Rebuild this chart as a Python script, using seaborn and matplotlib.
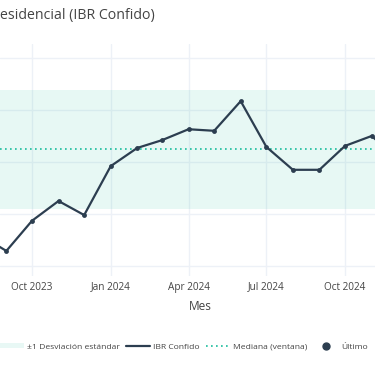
import pandas as pd
import matplotlib
matplotlib.use("Agg")
import matplotlib.pyplot as plt
from matplotlib.lines import Line2D
from matplotlib.patches import Patch
import seaborn as sns

# Data (y scale is not visible, so units are estimated)
months = ["2023-08-01", "2023-09-01", "2023-10-01", "2023-11-01", "2023-12-01",
          "2024-01-01", "2024-02-01", "2024-03-01", "2024-04-01", "2024-05-01",
          "2024-06-01", "2024-07-01", "2024-08-01", "2024-09-01", "2024-10-01",
          "2024-11-01", "2024-12-01"]
ibr_values = [16.0, 12.9, 18.7, 22.5, 19.8,
              29.2, 32.7, 34.2, 36.3, 36.0,
              41.7, 32.9, 28.5, 28.5, 33.1,
              35.0, 30.8]
median_value = 32.5
std_lower = 21.0
std_upper = 43.8
tick_months = ["2023-10-01", "2024-01-01", "2024-04-01", "2024-07-01", "2024-10-01"]
tick_labels = ["Oct 2023", "Jan 2024", "Apr 2024", "Jul 2024", "Oct 2024"]

df = pd.DataFrame({"Mes": pd.to_datetime(months), "IBR": ibr_values})

LINE = "#2c3e50"
TEAL = "#1abc9c"
BAND = "#e8f8f5"
GRID = "#edf1f7"
TEXT = "#444444"

sns.set_theme(style="white")
plt.rcParams["font.family"] = ["Open Sans", "DejaVu Sans"]

fig = plt.figure(figsize=(3.75, 3.66), dpi=100)
ax = fig.add_axes([0, 1 - 276 / 366, 1, 232 / 366])

# grid first, band on top with alpha so the grid shows through
for t in tick_months:
    ax.axvline(pd.Timestamp(t), color=GRID, lw=1, zorder=0)
for yv in [10, 20, 30, 40, 50]:
    ax.axhline(yv, color=GRID, lw=1, zorder=0)

ax.axhspan(std_lower, std_upper, color=TEAL, alpha=0.1, lw=0, zorder=1)
ax.axhline(median_value, color=TEAL, lw=1.2, ls=(0, (1, 2)), zorder=2)

sns.lineplot(data=df, x="Mes", y="IBR", ax=ax, color=LINE, lw=1.6,
             marker="o", markersize=3.5, markeredgewidth=0, zorder=3)
sns.scatterplot(data=df.tail(1), x="Mes", y="IBR", ax=ax, color=LINE,
                s=40, zorder=4)

ax.set_xlim(pd.Timestamp("2023-08-24 14:00"), pd.Timestamp("2024-11-05"))
ax.set_ylim(8.08, 52.69)
ax.set_xticks(pd.to_datetime(tick_months))
ax.set_xticklabels(tick_labels)
ax.tick_params(axis="x", length=0, pad=4, labelsize=7.2, labelcolor=TEXT)
ax.tick_params(axis="y", length=0, labelleft=False)
ax.set_ylabel("")
ax.set_xlabel("Mes", fontsize=8.6, color=TEXT)
ax.xaxis.set_label_coords(200 / 375, -24 / 232)
for s in ax.spines.values():
    s.set_visible(False)
ax.grid(False)

fig.text(0.0, 1 - 16 / 366, "esidencial (IBR Confido)", ha="left", va="center",
         fontsize=10.2, color=TEXT)

handles = [Patch(facecolor=BAND, edgecolor="none"),
           Line2D([], [], color=LINE, lw=1.6),
           Line2D([], [], color=TEAL, lw=1.2, ls=(0, (1, 2))),
           Line2D([], [], color=LINE, lw=0, marker="o", markersize=5)]
labels = ["±1 Desviación estándar", "IBR Confido", "Mediana (ventana)", "Último"]
fig.legend(handles, labels, loc="center left", bbox_to_anchor=(0, 1 - 347 / 366),
           ncol=4, frameon=False, fontsize=6.1, borderpad=0, borderaxespad=0,
           handlelength=2.8, handletextpad=0.4, columnspacing=0.75,
           handleheight=0.4, labelcolor=TEXT)

fig.savefig("out.png", dpi=100)
